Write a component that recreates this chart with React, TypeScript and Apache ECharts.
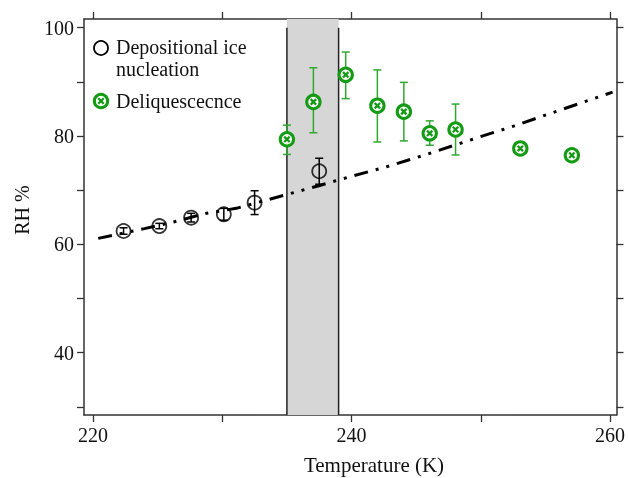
import React, { useEffect, useRef } from "react";
import * as echarts from "echarts";

// ---- data ----
const xTickValues = [220, 230, 240, 250, 260];
const xLabelValues = [220, 240, 260];
const yTickValues = [30, 40, 50, 60, 70, 80, 90, 100];
const yLabelValues = [40, 60, 80, 100];

const depT = [222.36, 225.13, 227.59, 230.12, 232.5, 237.5];
const depRH = [62.46, 63.38, 64.93, 65.55, 67.7, 73.5];
const depErr = [0.6, 0.5, 0.8, 1.1, 2.2, 2.4];

const delT = [235.0, 237.05, 239.55, 242.0, 244.05, 246.05, 248.05, 253.06, 257.05];
const delRH = [79.4, 86.3, 91.3, 85.6, 84.5, 80.5, 81.2, 77.7, 76.45];
const delLow = [76.6, 80.6, 86.9, 78.9, 79.1, 78.3, 76.5, null, null];
const delHigh = [82.0, 92.6, 95.5, 92.2, 89.9, 82.8, 85.9, null, null];

const curveT = [220.4, 223.97, 226.55, 228.62, 231.08, 234.57, 237.4, 239.16, 242.52, 245.62, 249.37, 252.6, 255.96, 260.2];
const curveRH = [61.1, 62.9, 64.31, 65.67, 66.65, 68.93, 70.78, 72.01, 74.18, 76.45, 79.41, 81.87, 84.64, 88.1];

const bandStart = 235;
const bandEnd = 239;
const bandLineTop = 100;

const labels = {
  x: "Temperature (K)",
  y: "RH %",
  dep1: "Depositional ice",
  dep2: "nucleation",
  del: "Deliquescecnce",
};

// ---- layout / style ----
const X_MIN = 219.3;
const X_MAX = 260.5;
const Y_MIN = 28.5;
const Y_MAX = 101.6;
const FONT = "'Liberation Serif', 'Times New Roman', serif";
const AXIS_COLOR = "#333";
const GREEN = "#139b13";
const GREEN_BAR = "#2fa82f";

function axisCommon(position: string, showLabel: boolean, tickVals: number[], labelVals: number[]) {
  return {
    type: "value",
    position,
    axisLine: { show: true, onZero: false, lineStyle: { color: AXIS_COLOR, width: 1.5 } },
    axisTick: { show: true, inside: false, length: 7, customValues: tickVals, lineStyle: { color: AXIS_COLOR, width: 1.3 } },
    axisLabel: {
      show: showLabel,
      customValues: labelVals,
      fontFamily: FONT,
      fontSize: 20,
      color: "#111",
      margin: 10,
    },
    splitLine: { show: false },
  };
}

export default function App() {
  const ref = useRef<HTMLDivElement>(null);
  useEffect(() => {
    if (!ref.current) return;
    const chart = echarts.init(ref.current, undefined, { renderer: "svg" });

    const errData = depT.map((t, i) => [t, depRH[i] - depErr[i], depRH[i] + depErr[i]]);
    const delErrData = delT
      .map((t, i) => (delLow[i] == null ? null : [t, delLow[i], delHigh[i]]))
      .filter((d) => d != null);

    const errRender = (color: string) => (params: any, api: any) => {
      const x = api.value(0);
      const lo = api.coord([x, api.value(1)]);
      const hi = api.coord([x, api.value(2)]);
      const w = 4;
      const style = { stroke: color, lineWidth: 1.5 };
      return {
        type: "group",
        children: [
          { type: "line", shape: { x1: lo[0], y1: lo[1], x2: hi[0], y2: hi[1] }, style },
          { type: "line", shape: { x1: lo[0] - w, y1: lo[1], x2: lo[0] + w, y2: lo[1] }, style },
          { type: "line", shape: { x1: hi[0] - w, y1: hi[1], x2: hi[0] + w, y2: hi[1] }, style },
        ],
      };
    };

    const greenMarker = (cx: number, cy: number) => {
      const a = 2.7;
      const xs = { stroke: GREEN, lineWidth: 2.3 };
      return [
        { type: "circle", shape: { cx, cy, r: 6.7 }, style: { fill: "#fff", stroke: GREEN, lineWidth: 3 } },
        { type: "line", shape: { x1: cx - a, y1: cy - a, x2: cx + a, y2: cy + a }, style: xs },
        { type: "line", shape: { x1: cx - a, y1: cy + a, x2: cx + a, y2: cy - a }, style: xs },
      ];
    };

    const option: any = {
      animation: false,
      grid: { left: 84, top: 19, width: 533, height: 396 },
      xAxis: [
        { ...axisCommon("bottom", true, xTickValues, xLabelValues), min: X_MIN, max: X_MAX },
        { ...axisCommon("top", false, xTickValues, xLabelValues), min: X_MIN, max: X_MAX },
      ],
      yAxis: [
        { ...axisCommon("left", true, yTickValues, yLabelValues), min: Y_MIN, max: Y_MAX },
        { ...axisCommon("right", false, yTickValues, yLabelValues), min: Y_MIN, max: Y_MAX },
      ],
      series: [
        {
          type: "custom",
          name: "band",
          z: 1,
          data: [[bandStart, bandEnd, bandLineTop]],
          renderItem: (params: any, api: any) => {
            const s0 = api.coord([api.value(0), Y_MAX]);
            const s1 = api.coord([api.value(1), Y_MIN]);
            const lt = api.coord([api.value(0), api.value(2)]);
            const ls = { stroke: "#222", lineWidth: 1.5 };
            return {
              type: "group",
              children: [
                { type: "rect", shape: { x: s0[0], y: s0[1], width: s1[0] - s0[0], height: s1[1] - s0[1] }, style: { fill: "#d6d6d6" } },
                { type: "line", shape: { x1: s0[0], y1: lt[1], x2: s0[0], y2: s1[1] }, style: ls },
                { type: "line", shape: { x1: s1[0], y1: lt[1], x2: s1[0], y2: s1[1] }, style: ls },
              ],
            };
          },
        },
        {
          type: "line",
          name: "curve",
          z: 2,
          showSymbol: false,
          data: curveT.map((t, i) => [t, curveRH[i]]),
          lineStyle: { color: "#000", width: 3, type: [14, 8, 3, 8, 3, 8], cap: "butt" },
        },
        {
          type: "custom",
          name: "depErr",
          z: 3,
          data: errData,
          renderItem: errRender("#000"),
        },
        {
          type: "custom",
          name: "delErr",
          z: 3,
          data: delErrData,
          renderItem: errRender(GREEN_BAR),
        },
        {
          type: "scatter",
          name: labels.dep1,
          z: 4,
          symbol: "circle",
          symbolSize: 14,
          data: depT.map((t, i) => [t, depRH[i]]),
          itemStyle: { color: "rgba(0,0,0,0)", borderColor: "#000", borderWidth: 1.8 },
        },
        {
          type: "custom",
          name: labels.del,
          z: 5,
          data: delT.map((t, i) => [t, delRH[i]]),
          renderItem: (params: any, api: any) => {
            const p = api.coord([api.value(0), api.value(1)]);
            return { type: "group", children: greenMarker(p[0], p[1]) };
          },
        },
      ],
      graphic: [
        { type: "circle", shape: { cx: 101, cy: 48, r: 7 }, style: { fill: "none", stroke: "#000", lineWidth: 1.8 }, z: 10 },
        { type: "text", x: 116, y: 47, style: { text: labels.dep1, font: `20px ${FONT}`, fill: "#111", verticalAlign: "middle" }, z: 10 },
        { type: "text", x: 116, y: 69, style: { text: labels.dep2, font: `20px ${FONT}`, fill: "#111", verticalAlign: "middle" }, z: 10 },
        { type: "group", z: 10, children: greenMarker(101, 101) },
        { type: "text", x: 116, y: 101, style: { text: labels.del, font: `20px ${FONT}`, fill: "#111", verticalAlign: "middle" }, z: 10 },
        { type: "text", x: 374, y: 465, style: { text: labels.x, font: `21px ${FONT}`, fill: "#111", align: "center", verticalAlign: "middle" }, z: 10 },
        { type: "text", x: 22, y: 210, rotation: Math.PI / 2, style: { text: labels.y, font: `20px ${FONT}`, fill: "#111", align: "center", verticalAlign: "middle" }, z: 10 },
      ],
    };
    chart.setOption(option);
    return () => chart.dispose();
  }, []);
  return <div ref={ref} style={{ position: "fixed", left: 0, top: 0, width: 628, height: 478 }} />;
}
